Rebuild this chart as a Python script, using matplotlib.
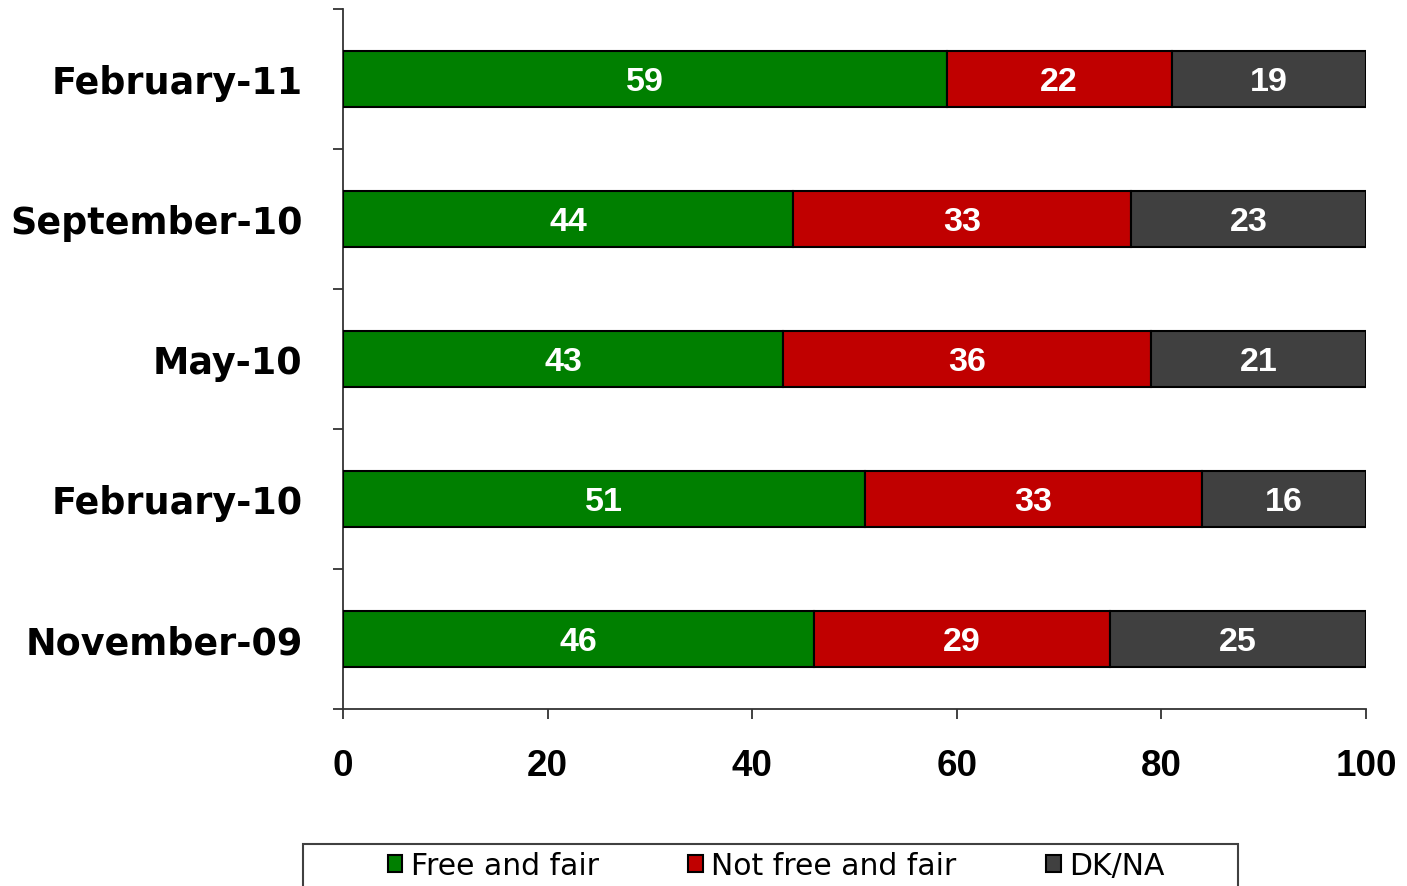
import matplotlib
matplotlib.use("Agg")
import matplotlib.pyplot as plt
from matplotlib.patches import Rectangle
import numpy as np

categories = ["November-09", "February-10", "May-10", "September-10", "February-11"]
free_fair = [46, 51, 43, 44, 59]
not_free_fair = [29, 33, 36, 33, 22]
dk_na = [25, 16, 21, 23, 19]
series_names = ["Free and fair", "Not free and fair", "DK/NA"]
colors = ["#007F00", "#C00000", "#404040"]
xticks = [0, 20, 40, 60, 80, 100]

fig = plt.figure(figsize=(14.07, 8.87), dpi=100)
ax = fig.add_axes([343/1407, 1-710/887, (1366-343)/1407, 700/887])

y = np.arange(len(categories))
left = np.zeros(len(categories))
handles = []
for vals, name, col in zip([free_fair, not_free_fair, dk_na], series_names, colors):
    bars = ax.barh(y, vals, left=left, height=0.4, color=col, edgecolor="black",
                   linewidth=1.5, label=name, zorder=3)
    handles.append(bars)
    for yi, l, v in zip(y, left, vals):
        ax.annotate(str(v), (l + v/2, yi), xytext=(0, -1.5), textcoords="offset points",
                    ha="center", va="center", color="white",
                    fontsize=24.5, fontweight="bold", family="Liberation Sans", zorder=4)
    left = left + np.array(vals)

ax.set_xlim(0, 100)
ax.set_ylim(-0.5, len(categories) - 0.5)
for s in ["top", "right"]:
    ax.spines[s].set_visible(False)
for s in ["left", "bottom"]:
    ax.spines[s].set_color("#333333")
    ax.spines[s].set_linewidth(1.3)

ax.set_xticks(xticks)
ax.set_xticklabels([str(t) for t in xticks], fontsize=26.5, fontweight="bold",
                   family="Liberation Sans")
ax.tick_params(axis="x", direction="out", length=7.5, width=1.3, color="#333333", pad=20.5)

ax.set_yticks(np.arange(-0.5, len(categories), 1.0))
ax.set_yticklabels([])
ax.tick_params(axis="y", which="major", direction="out", length=7.5, width=1.3, color="#333333")
ax.set_yticks(y, minor=True)
ax.set_yticklabels(categories, minor=True, fontsize=26.3, fontweight="bold", family="DejaVu Sans")
ax.tick_params(axis="y", which="minor", length=0, pad=29)

# legend frame
fig.patches.append(Rectangle((303/1407, -0.05), (1238-303)/1407, 0.05 + (1-845/887),
                             transform=fig.transFigure, facecolor="white",
                             edgecolor="#404040", linewidth=1.5, zorder=0))
leg = fig.legend(handles, series_names, loc="center", bbox_to_anchor=(776/1407, 1-867/887),
                 ncol=3, frameon=False, prop={"family": "DejaVu Sans", "size": 21.5},
                 handlelength=0.5, handleheight=0.5, handletextpad=0.27,
                 columnspacing=3.0, borderpad=0)

fig.savefig("out.png", dpi=100)
